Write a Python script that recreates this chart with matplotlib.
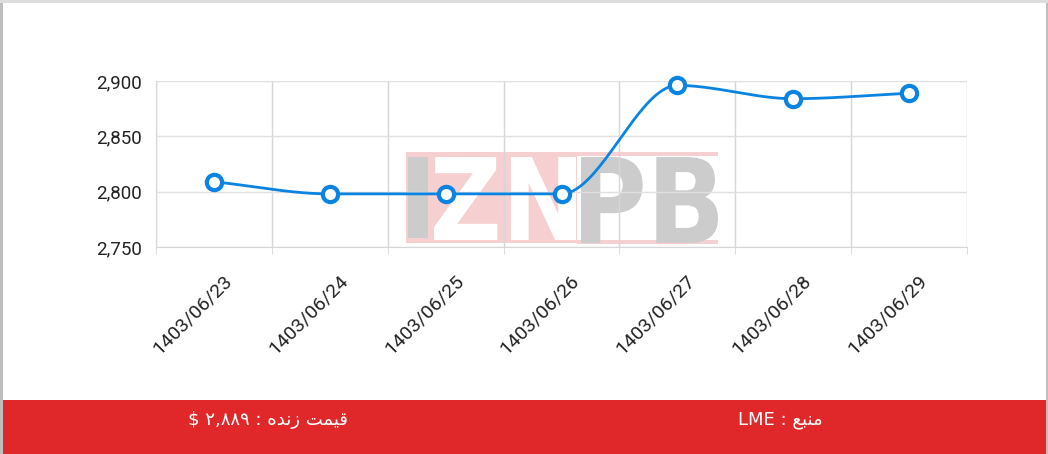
import numpy as np
import matplotlib.pyplot as plt
from matplotlib.patches import Rectangle, PathPatch
from matplotlib.textpath import TextPath
from matplotlib.font_manager import FontProperties
from matplotlib.transforms import ScaledTranslation, Affine2D

# داده‌ها
dates = ['1403/06/23', '1403/06/24', '1403/06/25', '1403/06/26',
         '1403/06/27', '1403/06/28', '1403/06/29']
prices = [2809, 2798, 2798, 2798, 2896, 2884, 2889]
y_ticks = [2750, 2800, 2850, 2900]
live_price = '۲,۸۸۹'
source = 'LME'

W, H = 1048, 454
blue = '#0A84E0'
red = '#E0282A'


def monotone_curve(xs, ys, n=40):
    # منحنی monotone (Fritsch-Carlson) برای رسم خط نرم
    xs = np.asarray(xs, float)
    ys = np.asarray(ys, float)
    h = np.diff(xs)
    d = np.diff(ys) / h
    m = np.zeros_like(ys)
    m[0], m[-1] = d[0], d[-1]
    for i in range(1, len(ys) - 1):
        if d[i - 1] * d[i] <= 0:
            m[i] = 0
        else:
            m[i] = (d[i - 1] + d[i]) / 2
    for i in range(len(d)):
        if d[i] == 0:
            m[i] = m[i + 1] = 0
            continue
        a, b = m[i] / d[i], m[i + 1] / d[i]
        s = a * a + b * b
        if s > 9:
            t = 3 / np.sqrt(s)
            m[i], m[i + 1] = t * a * d[i], t * b * d[i]
    px, py = [], []
    for i in range(len(d)):
        t = np.linspace(0, 1, n)
        h00 = 2 * t**3 - 3 * t**2 + 1
        h10 = t**3 - 2 * t**2 + t
        h01 = -2 * t**3 + 3 * t**2
        h11 = t**3 - t**2
        px.extend(xs[i] + t * h[i])
        py.extend(h00 * ys[i] + h10 * h[i] * m[i] + h01 * ys[i + 1] + h11 * h[i] * m[i + 1])
    return np.array(px), np.array(py)


def fx(px):
    return px / W


def fy(py):
    return 1 - py / H


def box(x0, y0, x1, y1, color, z):
    # مستطیل با مختصات پیکسلی (از بالا)
    fig.patches.append(Rectangle((fx(x0), fy(y1)), fx(x1) - fx(x0), fy(y0) - fy(y1),
                                 transform=fig.transFigure, color=color, zorder=z, lw=0))


def text_in_box(s, x0, x1, ytop, ybot, color, z):
    # متن واترمارک کشیده شده در یک کادر
    tp = TextPath((0, 0), s, size=100, prop=FontProperties(family='DejaVu Sans', weight='bold'))
    bb = tp.get_extents()
    tr = (Affine2D().translate(-bb.x0, -bb.y0)
          .scale((x1 - x0) / bb.width, (ybot - ytop) / bb.height)
          .translate(x0, H - ybot).scale(1 / W, 1 / H))
    fig.patches.append(PathPatch(tp, transform=tr + fig.transFigure, color=color, lw=0, zorder=z))


fig = plt.figure(figsize=(W / 100, H / 100), dpi=100)
fig.patch.set_facecolor('#BEBEBE')
box(3, 3, 1046, 454, 'white', 0)
box(0, 0, 1048, 3, '#DDDDDD', 0)

# واترمارک
wm_pink = '#F6CFD0'
wm_gray = '#CCCCCC'
box(406, 152, 577, 243, wm_pink, 0.2)
box(577, 152, 718, 156, wm_pink, 0.2)
box(577, 240, 718, 244, wm_pink, 0.2)
box(408, 157, 428, 238, wm_gray, 0.5)
text_in_box('ZN', 434, 576, 157, 240, 'white', 0.5)
text_in_box('PB', 581, 718, 157, 243, wm_gray, 0.5)

ax = fig.add_axes([fx(156), fy(247), fx(967) - fx(156), fy(81) - fy(247)])
ax.set_facecolor('none')
ax.set_zorder(2)

x = np.arange(len(prices))
cx, cy = monotone_curve(x, prices)
ax.plot(cx, cy, color=blue, linewidth=2, zorder=3, clip_on=False)
ax.plot(x, prices, linestyle='none', marker='o', markersize=11,
        markerfacecolor='white', markeredgecolor=blue, markeredgewidth=3,
        zorder=4, clip_on=False)

ax.set_xlim(-0.5, len(prices) - 0.5)
ax.set_ylim(y_ticks[0], y_ticks[-1])
ax.set_yticks(y_ticks)
ax.set_yticklabels([f'{v:,}' for v in y_ticks])
ax.set_xticks(x)
ax.set_xticklabels(dates, rotation=45, ha='right', va='center', rotation_mode='anchor')
ax.set_xticks(np.arange(-0.5, len(prices)), minor=True)

ax.grid(True, axis='y', color='#E0E0E0', linewidth=1)
ax.grid(True, axis='x', which='minor', color='#D6D6D6', linewidth=1)
ax.tick_params(axis='both', which='major', length=0, colors='#222222')
ax.tick_params(axis='x', labelsize=14, pad=22)
ax.tick_params(axis='y', labelsize=13.5, pad=10)
ax.tick_params(axis='x', which='minor', length=5, color='#D6D6D6')
for lab in ax.get_xticklabels():
    lab.set_transform(lab.get_transform() + ScaledTranslation(0.15, 0, fig.dpi_scale_trans))
    lab.set_family('Roboto')
for lab in ax.get_yticklabels():
    lab.set_family('Roboto')
for side in ['top', 'right']:
    ax.spines[side].set_visible(False)
for side in ['left', 'bottom']:
    ax.spines[side].set_color('#D6D6D6')

# نوار پایین
box(3, 400, 1046, 454, red, 1)
# متن فارسی به ترتیب نمایشی (حروف شکل‌یافته)
zende = '\uFEE9\uFEAA\uFEE7\uFEAF'
gheymat = '\uFE96\uFEE4\uFEF4\uFED7'
manba = '\uFECA\uFE92\uFEE8\uFEE3'
fig.text(fx(268), fy(420), f'$ {live_price} : {zende} {gheymat}', color='white',
         fontsize=13, family='DejaVu Sans', ha='center', va='center', zorder=2)
fig.text(fx(780), fy(420), f'{source} : {manba}', color='white',
         fontsize=13, family='DejaVu Sans', ha='center', va='center', zorder=2)

fig.savefig('out.png', dpi=100, facecolor=fig.get_facecolor())
